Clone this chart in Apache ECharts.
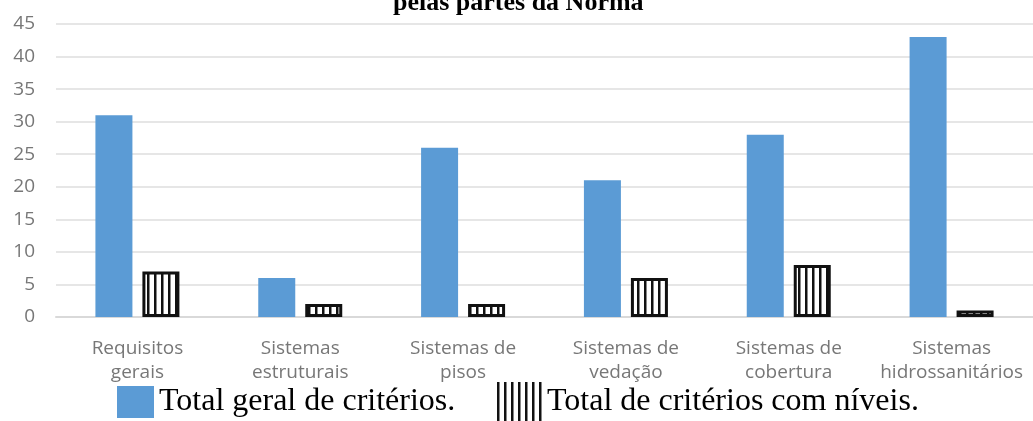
<!DOCTYPE html>
<html>
<head>
<meta charset="utf-8">
<script src="https://cdn.jsdelivr.net/npm/echarts@6/dist/echarts.min.js"></script>
<style>
html,body{margin:0;padding:0;background:#fff;}
#chart{width:1033px;height:421px;}
</style>
</head>
<body>
<div id="chart"></div>
<script>
const titleText = 'pelas partes da Norma';
const categories = ['Requisitos\ngerais', 'Sistemas\nestruturais', 'Sistemas de\npisos', 'Sistemas de\nvedação', 'Sistemas de\ncobertura', 'Sistemas\nhidrossanitários'];
const seriesNames = ['Total geral de critérios.', 'Total de critérios com níveis.'];
const totalGeral = [31, 6, 26, 21, 28, 43];
const totalNiveis = [7, 2, 2, 6, 8, 1];
const yTicks = {min: 0, max: 45, interval: 5};

function stripes() {
  const c = document.createElement('canvas');
  c.width = 7; c.height = 4;
  const g = c.getContext('2d');
  g.fillStyle = '#ffffff';
  g.fillRect(0, 0, 7, 4);
  g.fillStyle = '#111111';
  g.fillRect(0, 0, 2.5, 4);
  return c;
}
const stripePattern = {image: stripes(), repeat: 'repeat'};

const chart = echarts.init(document.getElementById('chart'), null, {renderer: 'canvas'});
chart.setOption({
  animation: false,
  backgroundColor: '#ffffff',
  title: {
    text: titleText,
    left: 393,
    top: -10,
    padding: 0,
    textStyle: {fontFamily: 'Liberation Serif', fontWeight: 'bold', fontSize: 26, color: '#000'}
  },
  grid: {left: 56, top: 24, width: 981, height: 293, containLabel: false},
  legend: [
    {
      data: [seriesNames[0]],
      left: 117, top: 386, padding: 0,
      icon: 'rect', itemWidth: 37, itemHeight: 32,
      textStyle: {fontFamily: 'Liberation Serif', fontSize: 32, color: '#000'}
    },
    {
      data: [seriesNames[1]],
      left: 497, top: 382, padding: 0,
      icon: 'rect', itemWidth: 45, itemHeight: 39,
      itemStyle: {borderWidth: 0},
      textStyle: {fontFamily: 'Liberation Serif', fontSize: 32, color: '#000'}
    }
  ],
  xAxis: {
    type: 'category',
    data: categories,
    axisTick: {show: false},
    axisLine: {lineStyle: {color: '#d9d9d9', width: 2}},
    axisLabel: {
      interval: 0, margin: 20,
      fontFamily: 'Open Sans', fontSize: 19, lineHeight: 24, color: '#777777'
    }
  },
  yAxis: {
    type: 'value',
    min: yTicks.min, max: yTicks.max, interval: yTicks.interval,
    axisLine: {show: false},
    axisTick: {show: false},
    splitLine: {lineStyle: {color: '#e6e6e6', width: 2}},
    axisLabel: {margin: 21, fontFamily: 'Open Sans', fontSize: 19, color: '#777777'}
  },
  series: [
    {
      name: seriesNames[0], type: 'bar', data: totalGeral,
      barWidth: 37, barGap: '27%',
      itemStyle: {color: '#5b9bd5'}
    },
    {
      name: seriesNames[1], type: 'bar', data: totalNiveis,
      barWidth: 37,
      itemStyle: {color: stripePattern, borderColor: '#111', borderWidth: 3}
    }
  ]
});
</script>
</body>
</html>
